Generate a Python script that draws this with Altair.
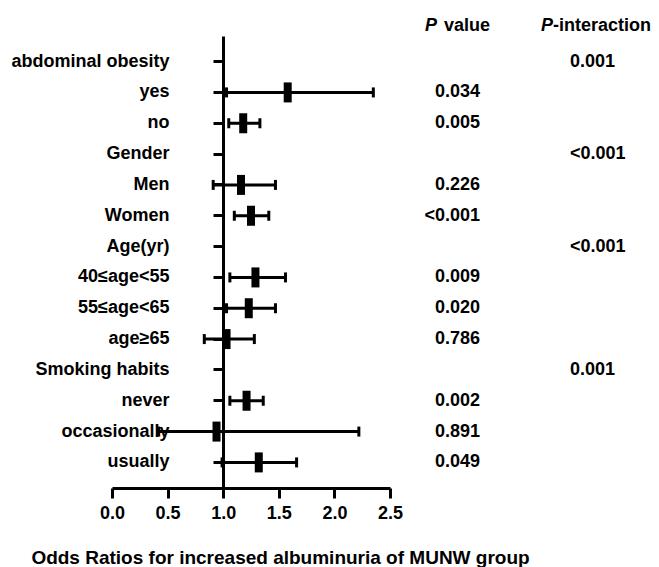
import altair as alt
import pandas as pd

rows = ["abdominal obesity", "yes", "no", "Gender", "Men", "Women", "Age(yr)",
        "40≤age<55", "55≤age<65", "age≥65", "Smoking habits", "never",
        "occasionally", "usually"]
odds = [None, 1.58, 1.18, None, 1.16, 1.25, None, 1.29, 1.23, 1.03, None, 1.21, 0.94, 1.32]
lower = [None, 1.03, 1.05, None, 0.91, 1.10, None, 1.06, 1.03, 0.83, None, 1.06, 0.42, 0.99]
upper = [None, 2.35, 1.33, None, 1.47, 1.41, None, 1.56, 1.47, 1.28, None, 1.36, 2.22, 1.66]
p_value = ["", "0.034", "0.005", "", "0.226", "<0.001", "", "0.009", "0.020", "0.786",
           "", "0.002", "0.891", "0.049"]
p_interaction = ["0.001", "", "", "<0.001", "", "", "<0.001", "", "", "", "0.001", "", "", ""]
x_ticks = [0.0, 0.5, 1.0, 1.5, 2.0, 2.5]

df = pd.DataFrame({"row": rows, "or": odds, "lo": lower, "hi": upper,
                   "p": p_value, "pint": p_interaction})

FONT = "Liberation Sans"
FS = 18

y_enc = alt.Y("row:N", sort=rows,
              scale=alt.Scale(paddingOuter=0.33, paddingInner=0),
              axis=alt.Axis(title=None, offset=-111, domainWidth=3, domainColor="black",
                            tickWidth=3, tickSize=10, tickColor="black",
                            labelPadding=44, labelFontSize=FS, labelFontWeight="bold",
                            labelColor="black", labelFont=FONT, labelLimit=300))

x_scale = alt.Scale(domain=[0, 2.5], nice=False, zero=False)
x_axis = alt.Axis(values=x_ticks, format=".1f", grid=False, domainWidth=3,
                  domainColor="black", tickWidth=3, tickSize=10, tickColor="black",
                  labelFontSize=FS, labelFontWeight="bold", labelColor="black",
                  labelFont=FONT, labelPadding=6, labelFlush=False, labelOverlap=False,
                  title="Odds Ratios for increased albuminuria of MUNW group",
                  titleFontSize=19, titleFontWeight="bold", titleColor="black",
                  titleFont=FONT, titleX=168, titleY=69, titleAlign="center",
                  titleBaseline="middle")

base = alt.Chart(df).encode(y=y_enc)

ci = base.mark_rule(color="black", strokeWidth=3).encode(
    x=alt.X("lo:Q", scale=x_scale, axis=x_axis), x2="hi:Q")
cap_lo = base.mark_tick(color="black", thickness=3, size=10, opacity=1).encode(
    x=alt.X("lo:Q", scale=x_scale))
cap_hi = base.mark_tick(color="black", thickness=3, size=10, opacity=1).encode(
    x=alt.X("hi:Q", scale=x_scale))
pt = base.mark_tick(color="black", thickness=8, size=20, opacity=1).encode(
    x=alt.X("or:Q", scale=x_scale))

ptxt = base.mark_text(align="right", baseline="middle", font=FONT, fontSize=FS,
                      fontWeight="bold", color="black").encode(
    x=alt.value(368), text="p:N")
pitxt = base.mark_text(align="left", baseline="middle", font=FONT, fontSize=FS,
                       fontWeight="bold", color="black").encode(
    x=alt.value(458), text="pint:N")

def header(txt, xpos, style):
    return alt.Chart(pd.DataFrame({"t": [txt]})).mark_text(
        align="left", baseline="middle", font=FONT, fontSize=FS, fontWeight="bold",
        fontStyle=style, color="black").encode(
        x=alt.value(xpos), y=alt.value(-10), text="t:N")

h1 = header("P", 313, "italic")
h2 = header("value", 332, "normal")
h3 = header("P", 429, "italic")
h4 = header("-interaction", 441, "normal")

chart = alt.layer(ci, cap_lo, cap_hi, pt, ptxt, pitxt, h1, h2, h3, h4).properties(
    width=278, height=452,
    autosize=alt.AutoSizeParams(type="none"),
    padding={"left": 104, "top": 28, "right": 261, "bottom": 79},
).configure(background="white").configure_view(strokeWidth=0, stroke="transparent")

chart.save("out.html", embed_options={"renderer": "svg", "actions": False})
